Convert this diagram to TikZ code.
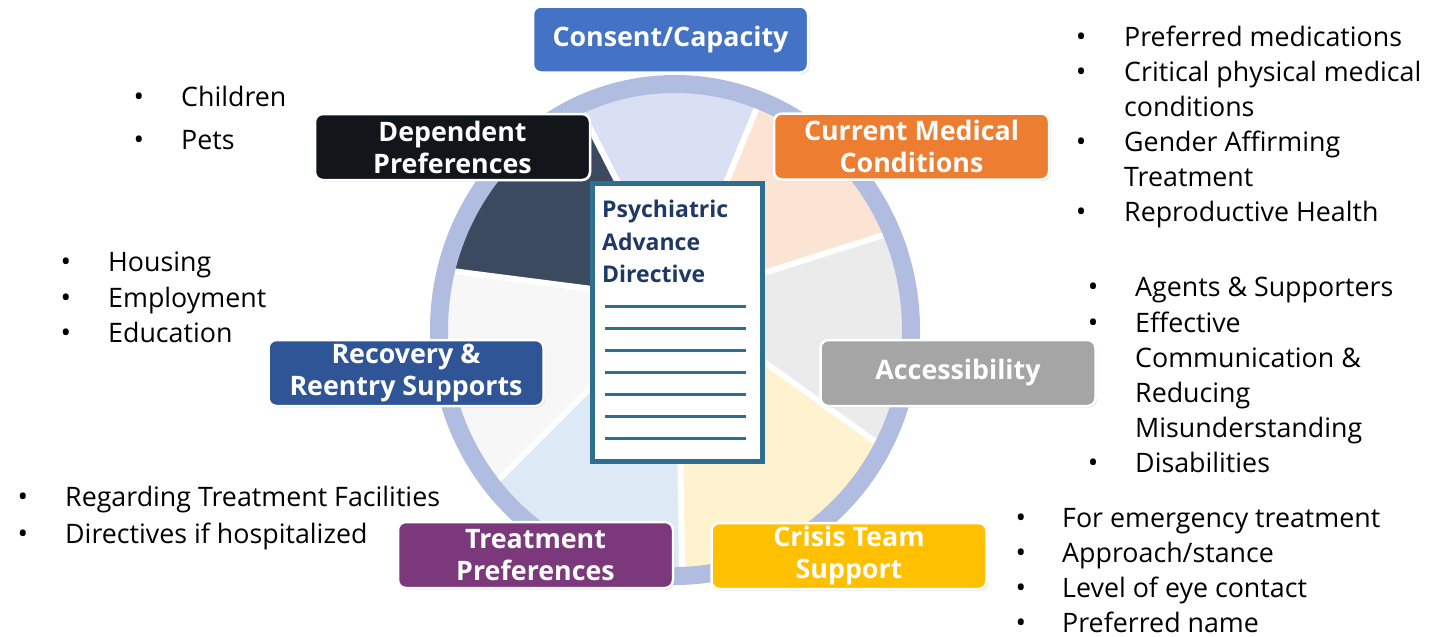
\documentclass[tikz,border=0pt]{standalone}
\usepackage{fontspec}
\setmainfont{Open Sans}
\usetikzlibrary{shadows}
\definecolor{cRing}{RGB}{176,188,224}
\definecolor{cTop}{RGB}{218,224,243}
\definecolor{cPeach}{RGB}{251,228,212}
\definecolor{cGrey}{RGB}{235,235,235}
\definecolor{cYel}{RGB}{255,242,206}
\definecolor{cLBlue}{RGB}{222,233,246}
\definecolor{cLGrey}{RGB}{247,247,247}
\definecolor{cDark}{RGB}{60,74,96}
\definecolor{bConsent}{RGB}{68,114,196}
\definecolor{bDep}{RGB}{18,21,25}
\definecolor{bMed}{RGB}{237,125,49}
\definecolor{bAcc}{RGB}{165,165,165}
\definecolor{bRec}{RGB}{47,85,151}
\definecolor{bTreat}{RGB}{123,56,122}
\definecolor{bCrisis}{RGB}{255,192,0}
\definecolor{docBlue}{RGB}{46,110,142}
\definecolor{docNavy}{RGB}{31,56,100}
\newcommand\bul[3]{\node[bul] (#1) at (#2,#3) {\textbullet};}
\newcommand\itm[4]{\node[itm] (#1) at (#2,#3) {#4};}
\begin{document}
\begin{tikzpicture}[x=1pt,y=-1pt,
  catbox/.style={rounded corners=8pt, draw=white, line width=2.5pt, text=white,
    font=\bfseries\fontsize{26.8}{32}\selectfont, align=center,
    minimum width=275pt, minimum height=66pt, inner sep=0pt,
    drop shadow={opacity=0.25, shadow xshift=1.5pt, shadow yshift=-1.5pt}},
  itm/.style={anchor=base west, inner sep=0pt, font=\fontsize{26.8}{30}\selectfont},
  bul/.style={anchor=base, inner sep=0pt, font=\fontsize{28}{30}\selectfont},
  gap/.style={white, line width=6pt},
  docline/.style={docBlue, line width=3pt}]
\useasboundingbox (0,0) rectangle (1432,637);
\fill[white] (0,0) rectangle (1432,637);
% pie
\coordinate (P) at (678,300);
\coordinate (B1) at (360,-321);
\coordinate (B2) at (945,-351);
\coordinate (B3) at (1314,99);
\coordinate (B4) at (1233,699);
\coordinate (B5) at (690,1104);
\coordinate (B6) at (174,804);
\coordinate (B7) at (0,213);
\begin{scope}
\clip (675,330) ellipse [x radius=229pt, y radius=238pt];
\fill[cTop] (P) -- (B1) -- (B2) -- cycle;
\fill[cPeach] (P) -- (B2) -- (B3) -- cycle;
\fill[cGrey] (P) -- (B3) -- (B4) -- cycle;
\fill[cYel] (P) -- (B4) -- (B5) -- cycle;
\fill[cLBlue] (P) -- (B5) -- (B6) -- cycle;
\fill[cLGrey] (P) -- (B6) -- (B7) -- cycle;
\fill[cDark] (P) -- (B7) -- (B1) -- cycle;
\foreach \b in {B1,B2,B3,B4,B5,B6,B7} \draw[gap] (P) -- (\b);
\end{scope}
\draw[cRing, line width=18pt] (675,330) ellipse [x radius=236pt, y radius=246pt];
% document
\node[draw=docBlue, line width=5pt, fill=white, minimum width=170pt, minimum height=278pt, inner sep=0pt,
  drop shadow={opacity=0.35, shadow xshift=2pt, shadow yshift=-2pt}] (doc) at (677,322) {};
\node[anchor=north west, align=left, inner sep=0pt, text=docNavy,
  font=\bfseries\fontsize{23}{32.5}\selectfont] (doctitle) at (602,200) {Psychiatric\\Advance\\Directive};
\foreach \k in {0,...,6} \draw[docline] (605,306+22*\k) -- (746,306+22*\k);
% category boxes
\node[catbox, fill=bConsent] (consent) at (670.5,39.5) {Consent/Capacity};
\node[catbox, fill=bDep] (dep) at (452.5,147) {Dependent\\Preferences};
\node[catbox, fill=bMed] (med) at (911.5,146.5) {Current Medical\\Conditions};
\node[catbox, fill=bAcc] (acc) at (958,373) {Accessibility};
\node[catbox, fill=bRec] (rec) at (406,373) {Recovery \&\\Reentry Supports};
\node[catbox, fill=bTreat] (treat) at (535.5,555) {Treatment\\Preferences};
\node[catbox, fill=bCrisis] (crisis) at (849,556) {Crisis Team\\Support};
% top right list
\bul{mb1}{1081}{46} \itm{mt1}{1124}{46}{Preferred medications}
\bul{mb2}{1081}{81} \itm{mt2}{1124}{81}{Critical physical medical}
\itm{mt3}{1124}{116}{conditions}
\bul{mb4}{1081}{151} \itm{mt4}{1124}{151}{Gender Affirming}
\itm{mt5}{1124}{186}{Treatment}
\bul{mb6}{1081}{221} \itm{mt6}{1124}{221}{Reproductive Health}
% right middle list
\bul{ab1}{1093}{296} \itm{at1}{1135}{296}{Agents \& Supporters}
\bul{ab2}{1093}{332} \itm{at2}{1135}{332}{Effective}
\itm{at3}{1135}{367}{Communication \&}
\itm{at4}{1135}{402}{Reducing}
\itm{at5}{1135}{437}{Misunderstanding}
\bul{ab6}{1093}{472} \itm{at6}{1135}{472}{Disabilities}
% bottom right list
\bul{cb1}{1021}{527} \itm{ct1}{1062}{527}{For emergency treatment}
\bul{cb2}{1021}{562} \itm{ct2}{1062}{562}{Approach/stance}
\bul{cb3}{1021}{597} \itm{ct3}{1062}{597}{Level of eye contact}
\bul{cb4}{1021}{632} \itm{ct4}{1062}{632}{Preferred name}
% top left list
\bul{db1}{139}{106} \itm{dt1}{181}{106}{Children}
\bul{db2}{139}{149} \itm{dt2}{181}{149}{Pets}
% left middle list
\bul{rb1}{66}{271} \itm{rt1}{108}{271}{Housing}
\bul{rb2}{66}{307} \itm{rt2}{108}{307}{Employment}
\bul{rb3}{66}{342} \itm{rt3}{108}{342}{Education}
% bottom left list
\bul{tb1}{23}{506} \itm{tt1}{65}{506}{Regarding Treatment Facilities}
\bul{tb2}{23}{543} \itm{tt2}{65}{543}{Directives if hospitalized}
\end{tikzpicture}
\end{document}
